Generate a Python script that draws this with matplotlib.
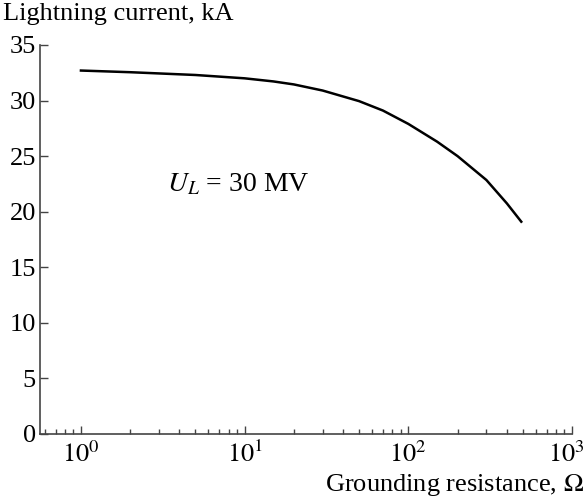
import numpy as np
import matplotlib.pyplot as plt
from matplotlib.ticker import LogLocator
from matplotlib.transforms import ScaledTranslation

plt.rcParams['font.family'] = ['Liberation Serif', 'DejaVu Serif']
plt.rcParams['mathtext.fontset'] = 'stix'

# grounding resistance (Ohm) and lightning current (kA), U_L = 30 MV
resistance = [1, 2, 5, 10, 15, 20, 30, 50, 70, 100, 150, 200, 300, 400, 490]
current = [32.7, 32.55, 32.3, 32.0, 31.72, 31.45, 30.9, 29.95, 29.1, 27.9,
           26.3, 25.0, 22.85, 20.75, 19.1]

fig = plt.figure(figsize=(5.87, 4.97), dpi=100)
ax = fig.add_axes([0.0681, 0.1268, 0.9063, 0.7827])

ax.plot(resistance, current, color='black', lw=1.8, solid_joinstyle='round')

ax.set_xscale('log')
ax.set_xlim(0.562, 1000)
ax.set_ylim(0, 35)
ax.set_yticks(np.arange(0, 36, 5))
ax.set_xticks([1, 10, 100, 1000])
ax.set_xticklabels([r'$10^{0}$', r'$10^{1}$', r'$10^{2}$', r'$10^{3}$'])
ax.xaxis.set_minor_locator(LogLocator(base=10, subs=np.arange(2, 10), numticks=20))

for s in ['top', 'right']:
    ax.spines[s].set_visible(False)
for s in ['left', 'bottom']:
    ax.spines[s].set_color('#444444')
    ax.spines[s].set_linewidth(1.2)

ax.tick_params(which='major', direction='in', length=6, width=1.0, color='#444444',
               labelsize=19, pad=5)
ax.tick_params(which='minor', direction='in', length=3.5, width=1.0, color='#444444')
ax.tick_params(axis='y', pad=3)
ax.tick_params(axis='x', labelsize=19)

# keep the last decade label inside the figure
last = ax.get_xticklabels()[-1]
last.set_transform(last.get_transform() + ScaledTranslation(-4 / 72, 0, fig.dpi_scale_trans))

ax.text(0.238, 0.64, r'$U_L$ = 30 MV', transform=ax.transAxes, fontsize=20,
        va='center')

fig.text(0.005, 0.972, 'Lightning current, kA', fontsize=19, va='center', ha='left')
fig.text(0.995, 0.024, r'Grounding resistance, $\Omega$', fontsize=19, va='center', ha='right')

fig.savefig('out.png', dpi=100)
